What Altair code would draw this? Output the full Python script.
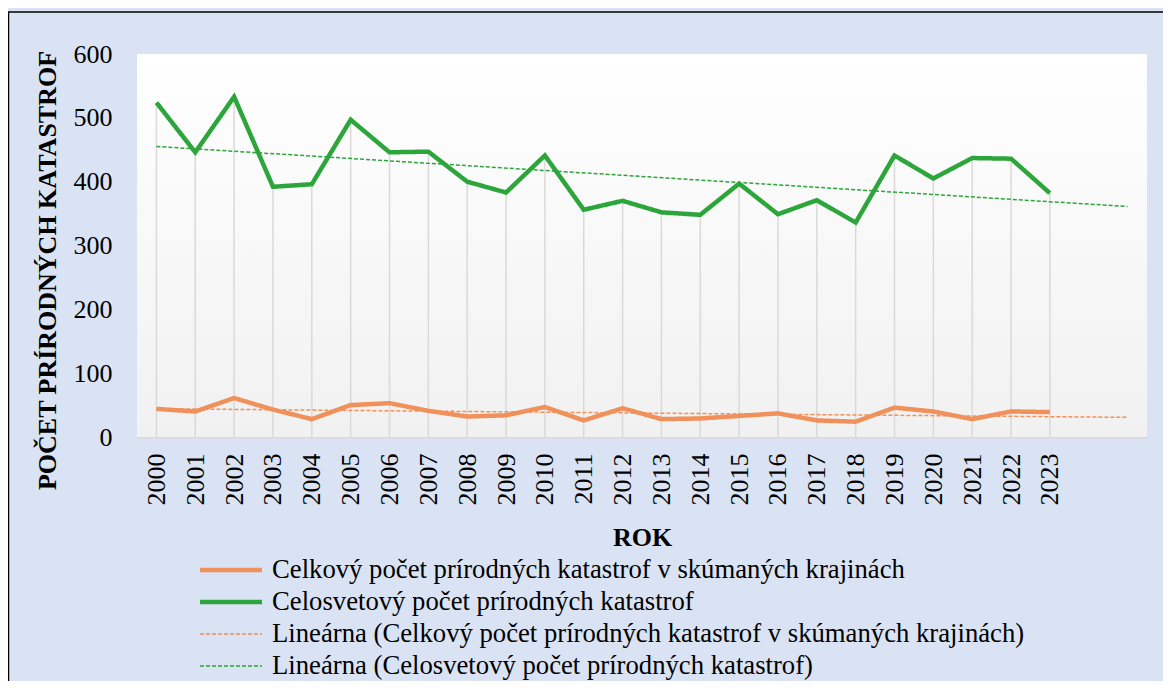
import altair as alt
import pandas as pd

years = list(range(2000, 2024))
regional = [44, 40, 61, 43, 28, 50, 53, 41, 32, 34, 47, 26, 45, 28, 29, 33, 37, 26, 24, 46, 40, 28, 40, 39]
world = [524, 446, 533, 392, 396, 497, 446, 447, 400, 383, 441, 356, 370, 352, 348, 397, 349, 371, 336, 441, 405, 437, 436, 382]

S1 = "Celkový počet prírodných katastrof v skúmaných krajinách"
S2 = "Celosvetový počet prírodných katastrof"
T1 = "Lineárna (" + S1 + ")"
T2 = "Lineárna (" + S2 + ")"
labels = [S1, S2, T1, T2]
ORANGE = "#f0905a"
GREEN = "#2ca53a"
FONT = "Liberation Serif"

W, H = 1010, 383

rows = []
for i, y in enumerate(years):
    rows.append({"idx": i, "year": y, "series": S1, "label": S1, "value": regional[i]})
    rows.append({"idx": i, "year": y, "series": S2, "label": S2, "value": world[i]})
df = pd.DataFrame(rows)
wide = pd.DataFrame({"idx": list(range(len(years))), "world": world})
one = pd.DataFrame({"a": [0]})
legend_df = pd.DataFrame({"label": labels, "order": list(range(len(labels)))})

xscale = alt.Scale(domain=[-0.5, 25.5], nice=False, zero=False)
yscale = alt.Scale(domain=[0, 600], nice=False)

xaxis = alt.Axis(
    values=list(range(len(years))), labelExpr="datum.value + 2000",
    labelAngle=-90, labelAlign="right", labelBaseline="middle",
    labelFontSize=26, labelFont=FONT, labelColor="#000", labelPadding=16,
    ticks=False, tickSize=0, grid=False, domainColor="#d9d9d9", domainWidth=2,
    title="ROK", titleFont=FONT, titleFontSize=26, titleFontWeight="bold",
    titleColor="#000", titleY=100, titleBaseline="middle",
)
yaxis = alt.Axis(
    orient="left",
    values=[0, 100, 200, 300, 400, 500, 600], labelFontSize=26, labelFont=FONT,
    labelColor="#000", labelPadding=25, ticks=False, tickSize=0, grid=False,
    domain=False, title="POČET PRÍRODNÝCH KATASTROF", titleFont=FONT,
    titleFontSize=26, titleFontWeight="bold", titleColor="#000",
    titleX=-90, titleY=216, titleAngle=-90, titleAlign="center", titleBaseline="middle",
)

color_scale = alt.Scale(type="ordinal", domain=labels, range=[ORANGE, GREEN, ORANGE, GREEN])
dash_scale = alt.Scale(type="ordinal", domain=labels, range=[[1, 0], [1, 0], [4, 2], [4, 2]])
width_scale = alt.Scale(type="ordinal", domain=labels, range=[4.5, 4.5, 1.5, 1.5])

bg = alt.Chart(one).mark_rect(
    color=alt.Gradient(
        gradient="linear", x1=0, x2=0, y1=0, y2=1,
        stops=[alt.GradientStop(color="#ffffff", offset=0),
               alt.GradientStop(color="#f1f1f1", offset=1)],
    )
).encode(x=alt.value(0), x2=alt.value(W), y=alt.value(0), y2=alt.value(H))

border = alt.Chart(one).mark_rect(fillOpacity=0, stroke="#000", strokeWidth=1.5).encode(
    x=alt.value(-128.5), x2=alt.value(W + 200), y=alt.value(-42), y2=alt.value(H + 400)
)

drops = alt.Chart(wide).mark_rule(color="#d9d9d9", strokeWidth=1.5).encode(
    x=alt.X("idx:Q", scale=xscale, axis=xaxis),
    y=alt.Y("world:Q", scale=yscale, axis=yaxis),
    y2=alt.datum(0),
)

style_enc = dict(
    color=alt.Color("label:N", scale=color_scale, legend=None),
    strokeDash=alt.StrokeDash("label:N", scale=dash_scale, legend=None),
    strokeWidth=alt.StrokeWidth("label:N", scale=width_scale, legend=None),
)

enc = dict(
    x=alt.X("idx:Q", scale=xscale, axis=xaxis),
    y=alt.Y("value:Q", scale=yscale, axis=None),
    **style_enc,
)

trend = alt.Chart(df).transform_regression(
    "idx", "value", groupby=["series"], extent=[0, 25]
).transform_calculate(
    label="'Lineárna (' + datum.series + ')'"
).mark_line().encode(**enc)

lines = alt.Chart(df).mark_line(strokeJoin="miter").encode(**enc)

# legend built as marks below the plot (layout only)
leg_base = alt.Chart(legend_df).transform_calculate(ypos="516 + 32 * datum.order")
leg_sym = leg_base.mark_rule().encode(
    x=alt.value(63), x2=alt.value(125),
    y=alt.Y("ypos:Q", scale=None, axis=None),
    **style_enc,
)
leg_txt = leg_base.mark_text(
    align="left", baseline="middle", font=FONT, fontSize=26.7, color="#000"
).encode(
    x=alt.value(135),
    y=alt.Y("ypos:Q", scale=None, axis=None),
    text="label:N",
)

chart = alt.layer(bg, border, drops, trend, lines, leg_sym, leg_txt).resolve_scale(
    y="independent"
).properties(
    width=W, height=H,
    autosize=alt.AutoSizeParams(type="none"),
    padding={"left": 129, "top": 46, "right": 16, "bottom": 244},
    background="#dae3f3",
).configure_view(stroke=None)

chart.save("out.html", embed_options={"renderer": "svg", "actions": False})
